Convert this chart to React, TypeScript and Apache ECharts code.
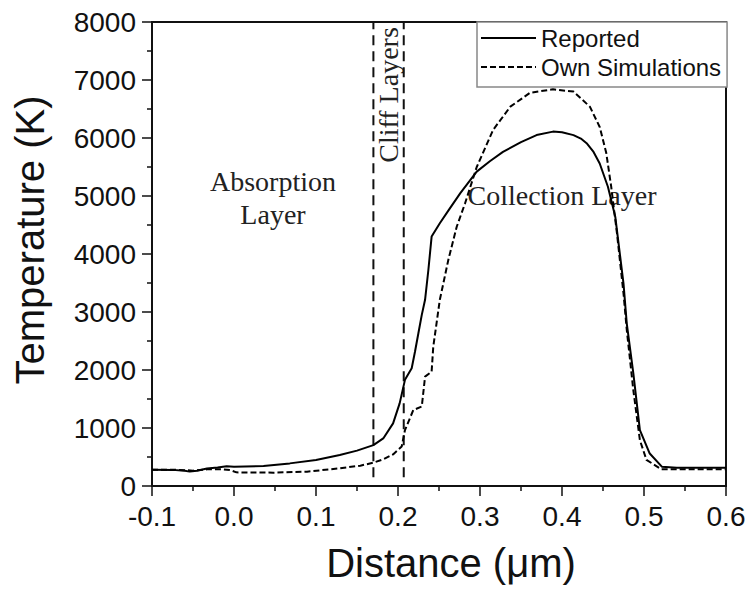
import React, { useEffect, useRef } from "react";
import * as echarts from "echarts";

// Distance (µm), Temperature (K)
const reportedData: [number, number][] = [
  [-0.1, 280], [-0.075, 278], [-0.06, 262], [-0.054, 248], [-0.045, 262],
  [-0.033, 300], [-0.02, 320], [-0.009, 340], [0.0, 333], [0.036, 345],
  [0.068, 390], [0.1, 450], [0.129, 535], [0.15, 610], [0.17, 705],
  [0.182, 820], [0.194, 1080], [0.202, 1425], [0.2085, 1830], [0.2167, 2030],
  [0.2207, 2315], [0.2248, 2630], [0.229, 2950], [0.233, 3210], [0.237, 3720],
  [0.241, 4300], [0.251, 4530], [0.262, 4760], [0.276, 5050], [0.296, 5420],
  [0.312, 5600], [0.328, 5760], [0.35, 5930], [0.369, 6050], [0.389, 6110],
  [0.4, 6100], [0.414, 6050], [0.423, 5990], [0.43, 5910], [0.438, 5770],
  [0.446, 5560], [0.456, 5160], [0.465, 4640], [0.475, 3490], [0.479, 2800],
  [0.487, 1940], [0.495, 965], [0.507, 560], [0.522, 330], [0.54, 315],
  [0.6, 315],
];

const simulationData: [number, number][] = [
  [-0.1, 280], [-0.07, 280], [-0.05, 265], [-0.033, 288], [-0.015, 290],
  [-0.005, 275], [0.003, 235], [0.048, 230], [0.089, 247], [0.129, 305],
  [0.154, 350], [0.17, 402], [0.182, 460], [0.194, 545], [0.2045, 680],
  [0.2085, 965], [0.2187, 1310], [0.229, 1370], [0.233, 1885], [0.241, 1970],
  [0.243, 2400], [0.251, 3210], [0.2614, 3900], [0.2716, 4470], [0.2817, 4870],
  [0.296, 5500], [0.316, 6140], [0.337, 6540], [0.361, 6780], [0.389, 6840],
  [0.414, 6800], [0.434, 6540], [0.446, 6190], [0.454, 5740], [0.46, 5160],
  [0.467, 4360], [0.475, 3320], [0.479, 2690], [0.487, 1650], [0.495, 790],
  [0.503, 450], [0.521, 290], [0.6, 290],
];

const boundaryPositions: number[] = [0.17, 0.207];
const boundaryRange: [number, number] = [150, 8000];

const seriesNames = ["Reported", "Own Simulations"];
const xRange: [number, number] = [-0.1, 0.6];
const yRange: [number, number] = [0, 8000];
const xLabel = "Distance (\u03bcm)";
const yLabel = "Temperature (K)";
const regionLabels = ["Absorption\nLayer", "Cliff Layers", "Collection Layer"];

export default function App() {
  const ref = useRef<HTMLDivElement>(null);

  useEffect(() => {
    if (!ref.current) return;
    const chart = echarts.init(ref.current, null, { renderer: "svg" });
    const sans = "'Liberation Sans', Arial, sans-serif";
    const serif = "'Liberation Serif', 'Times New Roman', serif";

    const boundarySeries = boundaryPositions.map((x, i) => ({
      name: "boundary" + i,
      type: "line",
      data: [
        [x, boundaryRange[0]],
        [x, boundaryRange[1]],
      ],
      symbol: "none",
      silent: true,
      lineStyle: { color: "#111", width: 2, type: [10, 6] },
      z: 1,
    }));

    const textStyleBase = {
      align: "center",
      verticalAlign: "middle",
      textAlign: "center",
      textVerticalAlign: "middle",
    };

    chart.setOption({
      animation: false,
      backgroundColor: "#fff",
      grid: {
        left: 152,
        right: 25,
        top: 22,
        bottom: 104,
        show: true,
        borderColor: "#111",
        borderWidth: 2,
      },
      legend: {
        data: seriesNames,
        orient: "vertical",
        left: 477,
        top: 22,
        itemWidth: 55,
        itemHeight: 20,
        itemGap: 5,
        padding: [4, 6, 8, 3],
        borderColor: "#888",
        borderWidth: 1.5,
        backgroundColor: "#fff",
        itemStyle: { opacity: 0 },
        lineStyle: { color: "#000", width: 2 },
        textStyle: { fontFamily: sans, fontSize: 24, color: "#111" },
        z: 10,
      },
      xAxis: {
        type: "value",
        min: xRange[0],
        max: xRange[1],
        interval: 0.1,
        axisLine: { show: true, onZero: false, lineStyle: { color: "#111", width: 2 } },
        axisTick: { show: true, inside: false, length: 10, lineStyle: { color: "#111", width: 1.5 } },
        minorTick: { show: true, splitNumber: 2, length: 5, lineStyle: { color: "#111", width: 1.5 } },
        splitLine: { show: false },
        axisLabel: {
          fontFamily: sans,
          fontSize: 28,
          color: "#111",
          margin: 16,
          formatter: (v: number) => (Math.abs(v) < 1e-9 ? "0.0" : v.toFixed(1)),
        },
      },
      yAxis: {
        type: "value",
        min: yRange[0],
        max: yRange[1],
        interval: 1000,
        axisLine: { show: true, onZero: false, lineStyle: { color: "#111", width: 2 } },
        axisTick: { show: true, inside: false, length: 10, lineStyle: { color: "#111", width: 1.5 } },
        minorTick: { show: true, splitNumber: 2, length: 5, lineStyle: { color: "#111", width: 1.5 } },
        splitLine: { show: false },
        axisLabel: {
          fontFamily: sans,
          fontSize: 28,
          color: "#111",
          margin: 16,
          formatter: (v: number) => String(Math.round(v)),
        },
      },
      series: [
        {
          name: seriesNames[0],
          type: "line",
          data: reportedData,
          symbol: "none",
          lineStyle: { color: "#000", width: 2, type: "solid" },
          itemStyle: { color: "#000" },
          z: 3,
        },
        {
          name: seriesNames[1],
          type: "line",
          data: simulationData,
          symbol: "none",
          lineStyle: { color: "#000", width: 2, type: [6, 3] },
          itemStyle: { color: "#000" },
          z: 3,
        },
        ...boundarySeries,
      ],
      graphic: [
        {
          type: "text",
          x: 273,
          y: 198,
          style: { ...textStyleBase, text: regionLabels[0], fontFamily: serif, fontSize: 28, lineHeight: 33, fill: "#222" },
        },
        {
          type: "text",
          x: 388,
          y: 95,
          rotation: Math.PI / 2,
          style: { ...textStyleBase, text: regionLabels[1], fontFamily: serif, fontSize: 28, fill: "#222" },
        },
        {
          type: "text",
          x: 562,
          y: 195,
          style: { ...textStyleBase, text: regionLabels[2], fontFamily: serif, fontSize: 28, fill: "#222" },
        },
        {
          type: "text",
          x: 451,
          y: 563,
          style: { ...textStyleBase, text: xLabel, fontFamily: sans, fontSize: 40, fill: "#111" },
        },
        {
          type: "text",
          x: 30,
          y: 240,
          rotation: Math.PI / 2,
          style: { ...textStyleBase, text: yLabel, fontFamily: sans, fontSize: 40, fill: "#111" },
        },
      ],
    });

    return () => chart.dispose();
  }, []);

  return (
    <div
      ref={ref}
      style={{ position: "fixed", left: 0, top: 0, width: 751, height: 590 }}
    />
  );
}
